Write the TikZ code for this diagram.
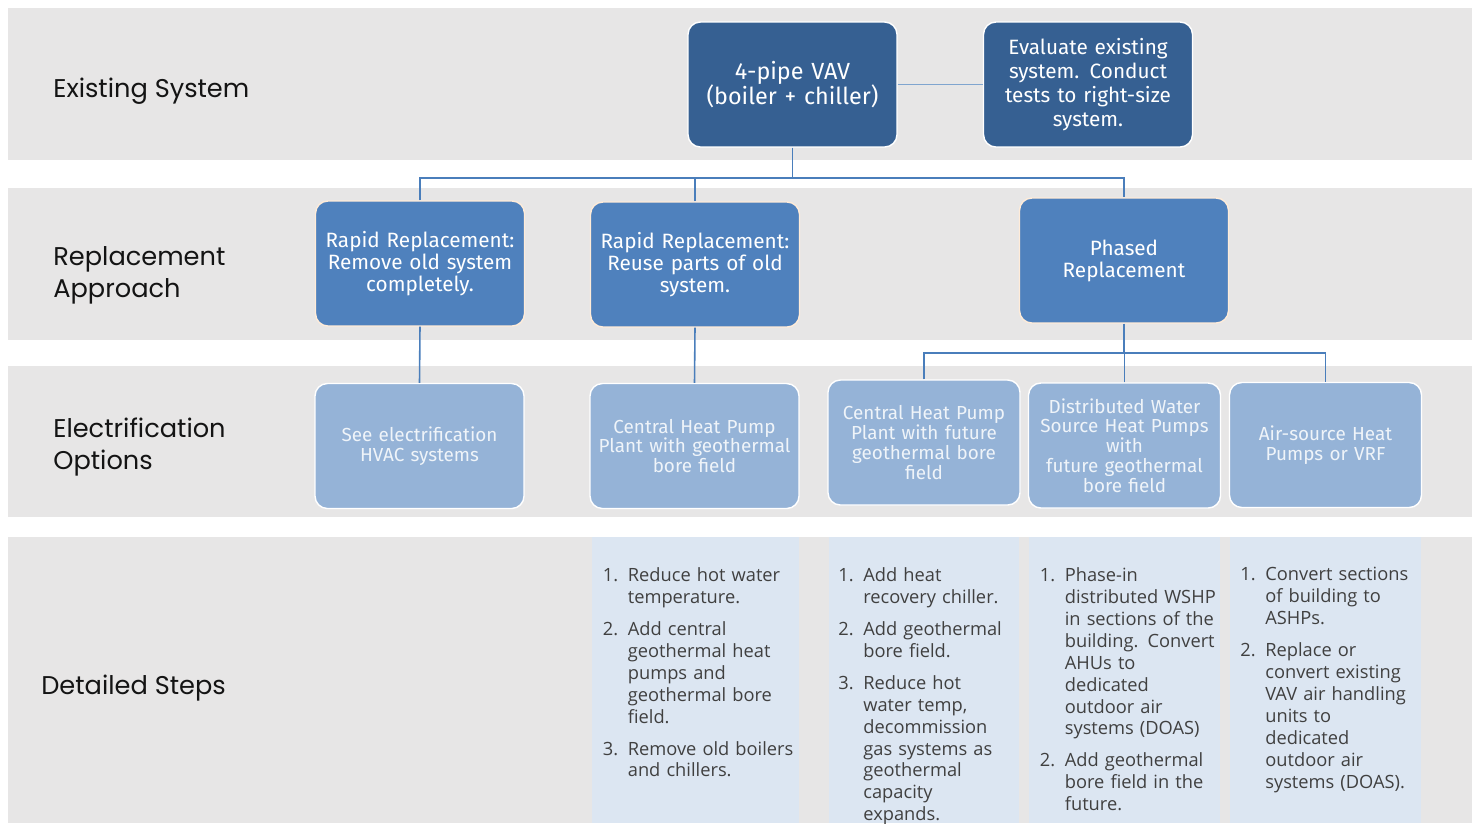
\documentclass[tikz,border=0pt]{standalone}
\usepackage{fontspec}
\setmainfont{Fira Sans}
\newfontfamily\rowfont{Poppins}
\newfontfamily\stepfont{Open Sans}
\begin{document}
\begin{tikzpicture}[x=0.02cm,y=-0.02cm]
  % Local definitions
  \def\stepitem#1#2{{\let\\\newline\hangindent=0.5cm\hangafter=1\noindent
    \makebox[0.5cm][l]{#1}#2\par}\vspace{5.7pt}}

  % Colors
  \definecolor{bandcolor}{RGB}{231,230,230}
  \definecolor{existcolor}{RGB}{54,96,146}
  \definecolor{approachcolor}{RGB}{79,129,189}
  \definecolor{optioncolor}{RGB}{149,179,215}
  \definecolor{stepcolor}{RGB}{220,230,242}
  \definecolor{linecolor}{RGB}{74,126,187}
  \definecolor{steptextcolor}{RGB}{64,64,64}
  \definecolor{labelcolor}{RGB}{20,20,20}

  % Styles
  \tikzstyle{band}=[fill=bandcolor]
  \tikzstyle{row label}=[anchor=west,align=left,inner sep=0pt,text=labelcolor,
    font=\rowfont\fontsize{14.6}{18.1}\selectfont]
  \tikzstyle{box}=[rectangle,rounded corners=7pt,draw=white,line width=0.8pt,
    align=center,inner sep=2pt,minimum width=4.18cm,minimum height=2.5cm,text width=3.9cm]
  \tikzstyle{existing box}=[box,fill=existcolor,text=white,
    font=\fontsize{13.3}{14.2}\selectfont]
  \tikzstyle{approach box}=[box,fill=approachcolor,text=white,draw=orange!15,
    font=\fontsize{11.8}{12.5}\selectfont]
  \tikzstyle{option box}=[box,fill=optioncolor,text=white!85!optioncolor,
    font=\fontsize{10.75}{11.3}\selectfont]
  \tikzstyle{narrow}=[minimum width=3.82cm,text width=3.7cm]
  \tikzstyle{step text}=[anchor=north west,align=left,text width=3.9cm,
    inner xsep=0.21cm,inner ysep=0.6cm,text=steptextcolor,
    font=\stepfont\fontsize{10.4}{12.5}\selectfont]
  \tikzstyle{connector}=[draw=linecolor,line width=0.9pt]

  % Bands
  \useasboundingbox (0,0) rectangle (1478,823);
  \foreach \ya/\yb in {8/160, 188/340, 366/517, 537/823}
    \fill[band] (8,\ya) rectangle (1472,\yb);
  \foreach \xa/\xb in {592/799, 829/1019, 1029/1220, 1230/1421}
    \fill[stepcolor] (\xa,537) rectangle (\xb,823);

  % Row labels
  \node[row label] (existing) at (53,91) {Existing System};
  \node[row label] (approach) at (53,275) {Replacement\\Approach};
  \node[row label] (options) at (53,447) {Electrification\\Options};
  \node[row label] (detailed) at (41,688) {Detailed Steps};

  % Existing system
  \node[existing box] (vav) at (792.5,84.5) {4-pipe VAV\\(boiler + chiller)};
  \node[existing box,font=\fontsize{11.8}{13.6}\selectfont] (evaluate) at (1088,84.5)
    {Evaluate existing\\system. Conduct\\tests to right-size\\system.};

  % Replacement approach
  \node[approach box] (remove) at (420,263.5) {Rapid Replacement:\\Remove old system\\completely.};
  \node[approach box] (reuse) at (695,264.5) {Rapid Replacement:\\Reuse parts of old\\system.};
  \node[approach box] (phased) at (1124,260.5) {Phased\\Replacement};

  % Electrification options
  \node[option box] (seehvac) at (419.5,446) {See electrification\\HVAC systems};
  \node[option box] (geoplant) at (694.5,446) {Central Heat Pump\\Plant with geothermal\\bore field};
  \node[option box,narrow] (futureplant) at (924,442.5)
    {Central Heat Pump\\Plant with future\\geothermal bore\\field};
  \node[option box,narrow] (wshp) at (1124.5,445.5)
    {Distributed Water\\Source Heat Pumps\\with\\future geothermal\\bore field};
  \node[option box,narrow] (ashp) at (1325.5,445) {Air-source Heat\\Pumps or VRF};

  % Connectors
  \coordinate (bus) at (795,178);
  \coordinate (phasebus) at (1124,353);
  \draw[connector,draw=linecolor!70] (vav) -- (evaluate);
  \draw[connector] (vav.south) -- (vav.south |- bus);
  \draw[connector] (remove.north) |- (vav.south |- bus) -| (phased.north);
  \draw[connector] (reuse.north) -- (reuse.north |- bus);
  \draw[connector] (remove.south) -- (seehvac.north);
  \draw[connector] (reuse.south) -- (geoplant.north);
  \draw[connector] (phased.south) -- (phasebus);
  \draw[connector] (futureplant.north) |- (phasebus) -| (ashp.north);
  \draw[connector] (wshp.north) -- (wshp.north |- phasebus);

  % Detailed steps
  \node[step text] (reusesteps) at (592,537) {%
    \stepitem{1.}{Reduce hot water\\temperature.}
    \stepitem{2.}{Add central\\geothermal heat\\pumps and\\geothermal bore\\field.}
    \stepitem{3.}{Remove old boilers\\and chillers.}};
  \node[step text,inner xsep=0.18cm] (plantsteps) at (829,537) {%
    \stepitem{1.}{Add heat\\recovery chiller.}
    \stepitem{2.}{Add geothermal\\bore field.}
    \stepitem{3.}{Reduce hot\\water temp,\\decommission\\gas systems as\\geothermal\\capacity\\expands.}};
  \node[step text] (wshpsteps) at (1029,537) {%
    \stepitem{1.}{Phase-in\\distributed WSHP\\in sections of the\\building. Convert\\AHUs to\\dedicated\\outdoor air\\systems (DOAS)}
    \stepitem{2.}{Add geothermal\\bore field in the\\future.}};
  \node[step text,inner xsep=0.2cm] (ashpsteps) at (1230,537) {%
    \stepitem{1.}{Convert sections\\of building to\\ASHPs.}
    \stepitem{2.}{Replace or\\convert existing\\VAV air handling\\units to\\dedicated\\outdoor air\\systems (DOAS).}};
\end{tikzpicture}
\end{document}
